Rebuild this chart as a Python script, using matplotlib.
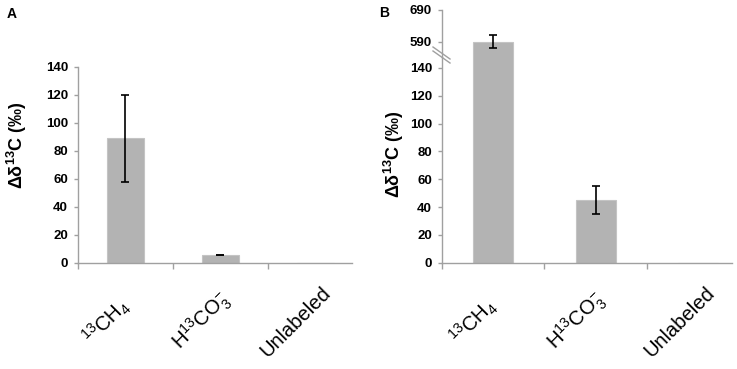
import matplotlib
matplotlib.use('Agg')
import matplotlib.pyplot as plt
from matplotlib.transforms import ScaledTranslation

plt.rcParams['font.family'] = ['Liberation Sans', 'DejaVu Sans']
plt.rcParams['mathtext.fontset'] = 'custom'
plt.rcParams['mathtext.rm'] = 'Liberation Sans'
plt.rcParams['mathtext.it'] = 'Liberation Sans:italic'
plt.rcParams['mathtext.bf'] = 'Liberation Sans:bold'

# data
categories = [r'$\mathrm{^{13}}$CH$\mathrm{_4}$', r'H$\mathrm{^{13}}$CO$\mathrm{_3^{-}}$', 'Unlabeled']
a_values = [89, 5.5, 0]
a_errors = [31, 0.3, 0]
b_values = [590, 45, 0]
b_errors = [20, 10, 0]
low_yticks = [0, 20, 40, 60, 80, 100, 120, 140]
high_yticks = [590, 690]

W, H = 737, 369
fig = plt.figure(figsize=(W / 100, H / 100), dpi=100)

bar_col = '#b3b3b3'
edge_col = '#c4c4c4'
spine_col = '#a0a0a0'


def add_ax(left, top, right, bottom):
    return fig.add_axes([left / W, 1 - bottom / H, (right - left) / W, (bottom - top) / H])


def draw_bars(ax, vals, errs):
    x = list(range(len(vals)))
    ax.bar(x, vals, width=0.39, color=bar_col, edgecolor=edge_col, linewidth=0.8, zorder=2)
    xe = [i for i in x if errs[i] > 0]
    ax.errorbar(xe, [vals[i] for i in xe], yerr=[errs[i] for i in xe], fmt='none',
                ecolor='black', elinewidth=1.2, capsize=3, capthick=1.2, zorder=3)


def style(ax, xmax, xlabels=True):
    for s in ['top', 'right']:
        ax.spines[s].set_visible(False)
    for s in ['left', 'bottom']:
        ax.spines[s].set_color(spine_col)
        ax.spines[s].set_linewidth(1)
    ax.tick_params(axis='y', direction='out', length=3, width=1, color=spine_col, pad=4,
                   labelsize=9.5)
    for t in ax.get_yticklabels():
        t.set_fontweight('bold')
    if xlabels:
        ax.set_xticks([-0.5, 0.5, 1.5, 2.5])
        ax.set_xticklabels([])
        ax.tick_params(axis='x', direction='out', length=4, width=1, color=spine_col)
        # rotated category labels, centred a little left of and below each bar
        off = ax.get_xaxis_transform() + ScaledTranslation(-0.19, -0.59, fig.dpi_scale_trans)
        for i, lab in enumerate(categories):
            ax.text(i, 0, lab, transform=off, rotation=45, rotation_mode='anchor',
                    ha='center', va='center', fontsize=14.5)
    else:
        ax.spines['bottom'].set_visible(False)
        ax.set_xticks([])
    ax.set_xlim(-0.5, xmax)


# panel A
ax_a = add_ax(77.7, 66.7, 351.7, 262.7)
draw_bars(ax_a, a_values, a_errors)
ax_a.set_ylim(0, 140)
ax_a.set_yticks(low_yticks)
style(ax_a, 2.385)

# panel B, broken axis
ax_b = add_ax(441.7, 56.7, 731.7, 262.7)
draw_bars(ax_b, b_values, b_errors)
ax_b.set_ylim(0, 148)
ax_b.set_yticks(low_yticks)
style(ax_b, 2.324)

ax_bt = add_ax(441.7, 10, 731.7, 56.7)
draw_bars(ax_bt, b_values, b_errors)
ax_bt.set_ylim(543, 690)
ax_bt.set_yticks(high_yticks)
style(ax_bt, 2.324, xlabels=False)

# break marks on the spine
for dy in (0, 4):
    fig.add_artist(plt.Line2D([433 / W, 450 / W], [1 - (47 + dy) / H, 1 - (59 + dy) / H],
                              color=spine_col, lw=1))

ylab = 'Δδ$\\mathbf{^{13}}$C (‰)'
fig.text(16.5 / W, 1 - 145 / H, ylab, rotation=90, ha='center', va='center',
         fontsize=13, fontweight='bold')
fig.text(394 / W, 1 - 154 / H, ylab, rotation=90, ha='center', va='center',
         fontsize=13, fontweight='bold')

fig.text(12 / W, 1 - 14 / H, 'A', ha='center', va='center', fontsize=10, fontweight='bold')
fig.text(384 / W, 1 - 13 / H, 'B', ha='center', va='center', fontsize=10, fontweight='bold')

fig.savefig('out.png', dpi=100)
